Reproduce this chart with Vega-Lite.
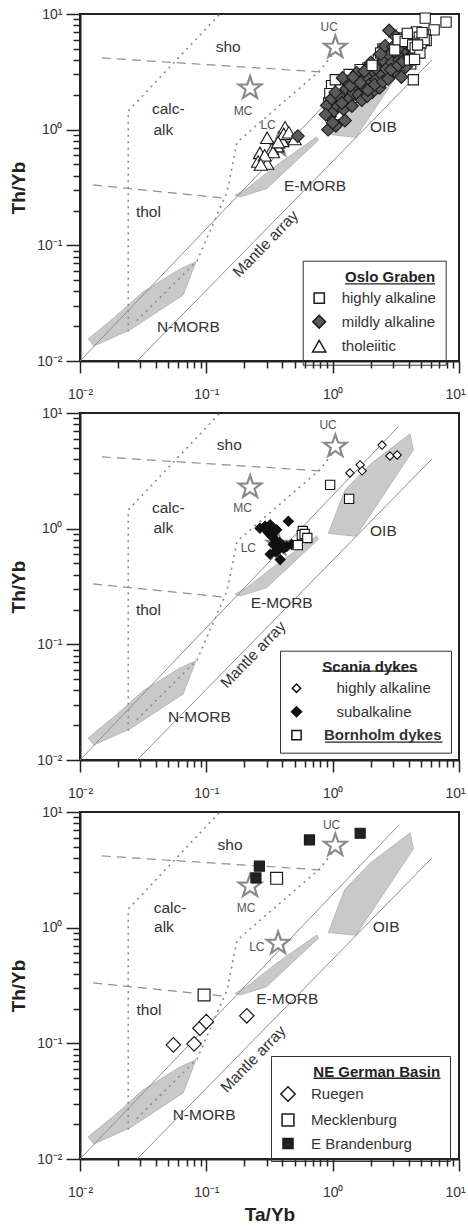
{
  "$schema": "https://vega.github.io/schema/vega-lite/v6.json",
  "background": "white",
  "padding": {"left": 8, "top": 6, "right": 0, "bottom": 2},
  "config": {
    "view": {"stroke": "#222", "strokeWidth": 2},
    "font": "Liberation Sans",
    "axis": {"grid": false}
  },
  "datasets": {
    "polys": [
      {"name": "N", "i": 0, "x": 0.0116, "y": 0.0155},
      {"name": "N", "i": 1, "x": 0.0129, "y": 0.0135},
      {"name": "N", "i": 2, "x": 0.0249, "y": 0.0186},
      {"name": "N", "i": 3, "x": 0.0655, "y": 0.0372},
      {"name": "N", "i": 4, "x": 0.0828, "y": 0.072},
      {"name": "N", "i": 5, "x": 0.062, "y": 0.0625},
      {"name": "N", "i": 6, "x": 0.0315, "y": 0.0395},
      {"name": "N", "i": 7, "x": 0.0189, "y": 0.024},
      {"name": "E", "i": 0, "x": 0.169, "y": 0.271},
      {"name": "E", "i": 1, "x": 0.209, "y": 0.309},
      {"name": "E", "i": 2, "x": 0.36, "y": 0.492},
      {"name": "E", "i": 3, "x": 0.748, "y": 0.865},
      {"name": "E", "i": 4, "x": 0.77, "y": 0.81},
      {"name": "E", "i": 5, "x": 0.30, "y": 0.309},
      {"name": "E", "i": 6, "x": 0.185, "y": 0.262},
      {"name": "O", "i": 0, "x": 0.925, "y": 0.91},
      {"name": "O", "i": 1, "x": 1.53, "y": 0.86},
      {"name": "O", "i": 2, "x": 4.35, "y": 4.8},
      {"name": "O", "i": 3, "x": 4.1, "y": 6.6},
      {"name": "O", "i": 4, "x": 1.98, "y": 3.6},
      {"name": "O", "i": 5, "x": 1.25, "y": 2.15}
    ],
    "mantlelines": [
      {"id": "m1", "i": 0, "x": 0.01, "y": 0.01},
      {"id": "m1", "i": 1, "x": 3.3, "y": 7.6},
      {"id": "m2", "i": 0, "x": 0.0283, "y": 0.01},
      {"id": "m2", "i": 1, "x": 6.1, "y": 4.0}
    ],
    "dashed": [
      {"id": "d1", "i": 0, "x": 0.0149, "y": 4.17},
      {"id": "d1", "i": 1, "x": 0.795, "y": 3.16},
      {"id": "d2", "i": 0, "x": 0.0127, "y": 0.333},
      {"id": "d2", "i": 1, "x": 0.133, "y": 0.257}
    ],
    "dotted": [
      {"id": "p1", "i": 0, "x": 0.0241, "y": 0.0179},
      {"id": "p1", "i": 1, "x": 0.0241, "y": 1.45},
      {"id": "p1", "i": 2, "x": 0.128, "y": 10},
      {"id": "p2", "i": 0, "x": 0.0281, "y": 0.0223},
      {"id": "p2", "i": 1, "x": 0.0844, "y": 0.0733},
      {"id": "p2", "i": 2, "x": 0.146, "y": 0.29},
      {"id": "p2", "i": 3, "x": 0.175, "y": 0.78},
      {"id": "p2", "i": 4, "x": 0.794, "y": 3.24},
      {"id": "p2", "i": 5, "x": 1.0, "y": 4.5}
    ],
    "labels": [
      {"p": 1, "t": "sho", "x": 0.149, "y": 5.15},
      {"p": 1, "t": "calc-", "x": 0.05, "y": 1.51},
      {"p": 1, "t": "alk", "x": 0.0457, "y": 1.0},
      {"p": 1, "t": "thol", "x": 0.0348, "y": 0.193},
      {"p": 1, "t": "N-MORB", "x": 0.072, "y": 0.0196},
      {"p": 1, "t": "E-MORB", "x": 0.726, "y": 0.328},
      {"p": 1, "t": "OIB", "x": 2.52, "y": 1.05},
      {"p": 2, "t": "sho", "x": 0.152, "y": 5.32},
      {"p": 2, "t": "calc-", "x": 0.05, "y": 1.51},
      {"p": 2, "t": "alk", "x": 0.0457, "y": 1.01},
      {"p": 2, "t": "thol", "x": 0.0348, "y": 0.2},
      {"p": 2, "t": "N-MORB", "x": 0.088, "y": 0.0234},
      {"p": 2, "t": "E-MORB", "x": 0.395, "y": 0.228},
      {"p": 2, "t": "OIB", "x": 2.52, "y": 0.95},
      {"p": 3, "t": "sho", "x": 0.154, "y": 5.2},
      {"p": 3, "t": "calc-", "x": 0.0516, "y": 1.47},
      {"p": 3, "t": "alk", "x": 0.0462, "y": 1.02},
      {"p": 3, "t": "thol", "x": 0.0352, "y": 0.195},
      {"p": 3, "t": "N-MORB", "x": 0.096, "y": 0.024},
      {"p": 3, "t": "E-MORB", "x": 0.437, "y": 0.24},
      {"p": 3, "t": "OIB", "x": 2.65, "y": 1.02}
    ],
    "mantle": [
      {"p": 1, "t": "Mantle array", "x": 0.295, "y": 0.103},
      {"p": 2, "t": "Mantle array", "x": 0.235, "y": 0.0815},
      {"p": 3, "t": "Mantle array", "x": 0.235, "y": 0.073}
    ],
    "starlabels": [
      {"p": 1, "t": "UC", "x": 0.94, "y": 7.7},
      {"p": 1, "t": "MC", "x": 0.195, "y": 1.46},
      {"p": 1, "t": "LC", "x": 0.308, "y": 1.1},
      {"p": 2, "t": "UC", "x": 0.92, "y": 7.8},
      {"p": 2, "t": "MC", "x": 0.194, "y": 1.5},
      {"p": 2, "t": "LC", "x": 0.215, "y": 0.68},
      {"p": 3, "t": "UC", "x": 0.98, "y": 7.7},
      {"p": 3, "t": "MC", "x": 0.206, "y": 1.47},
      {"p": 3, "t": "LC", "x": 0.251, "y": 0.685}
    ],
    "stars": [
      {"t": "UC", "x": 1.05, "y": 5.15},
      {"t": "MC", "x": 0.222, "y": 2.28},
      {"t": "LC", "x": 0.37, "y": 0.73}
    ],
    "underl": [
      {"p": 1, "x": 1.253, "x2": 6.47, "y": 0.0464},
      {"p": 2, "x": 0.83, "x2": 4.69, "y": 0.0586},
      {"p": 2, "x": 0.87, "x2": 7.41, "y": 0.0143},
      {"p": 3, "x": 0.705, "x2": 7.14, "y": 0.0499}
    ],
    "oslo": [
      {"g": "tholeiitic", "x": 0.303, "y": 0.85},
      {"g": "tholeiitic", "x": 0.42, "y": 1.05},
      {"g": "tholeiitic", "x": 0.443, "y": 0.88},
      {"g": "tholeiitic", "x": 0.5, "y": 0.83},
      {"g": "tholeiitic", "x": 0.4, "y": 0.8},
      {"g": "tholeiitic", "x": 0.363, "y": 0.72},
      {"g": "tholeiitic", "x": 0.331, "y": 0.68},
      {"g": "tholeiitic", "x": 0.266, "y": 0.63},
      {"g": "tholeiitic", "x": 0.281, "y": 0.56},
      {"g": "tholeiitic", "x": 0.303, "y": 0.51},
      {"g": "tholeiitic", "x": 0.257, "y": 0.53},
      {"g": "tholeiitic", "x": 0.337, "y": 0.64},
      {"g": "tholeiitic", "x": 0.41, "y": 0.92},
      {"g": "tholeiitic", "x": 0.29, "y": 0.6},
      {"g": "tholeiitic", "x": 0.37, "y": 0.78},
      {"g": "tholeiitic", "x": 0.45, "y": 0.95},
      {"g": "tholeiitic", "x": 0.27, "y": 0.5},
      {"g": "mildly alkaline", "x": 0.53, "y": 0.88},
      {"g": "highly alkaline", "x": 5.4, "y": 9.2},
      {"g": "highly alkaline", "x": 6.35, "y": 7.3},
      {"g": "highly alkaline", "x": 7.9, "y": 8.5},
      {"g": "highly alkaline", "x": 4.35, "y": 2.7},
      {"g": "highly alkaline", "x": 0.98, "y": 2.4},
      {"g": "highly alkaline", "x": 1.08, "y": 1.95},
      {"g": "highly alkaline", "x": 1.2, "y": 2.35},
      {"g": "highly alkaline", "x": 1.32, "y": 1.75},
      {"g": "highly alkaline", "x": 1.12, "y": 1.35},
      {"g": "highly alkaline", "x": 1.4, "y": 2.75},
      {"g": "highly alkaline", "x": 1.58, "y": 2.3},
      {"g": "highly alkaline", "x": 1.72, "y": 2.95},
      {"g": "highly alkaline", "x": 1.9, "y": 3.4},
      {"g": "highly alkaline", "x": 2.0, "y": 2.75},
      {"g": "highly alkaline", "x": 2.15, "y": 3.1},
      {"g": "highly alkaline", "x": 2.3, "y": 4.0},
      {"g": "highly alkaline", "x": 2.45, "y": 3.2},
      {"g": "highly alkaline", "x": 2.6, "y": 4.3},
      {"g": "highly alkaline", "x": 2.75, "y": 3.55},
      {"g": "highly alkaline", "x": 2.9, "y": 5.0},
      {"g": "highly alkaline", "x": 0.95, "y": 2.05},
      {"g": "highly alkaline", "x": 1.65, "y": 3.3},
      {"g": "highly alkaline", "x": 1.5, "y": 1.9},
      {"g": "highly alkaline", "x": 1.25, "y": 1.95},
      {"g": "highly alkaline", "x": 1.8, "y": 2.15},
      {"g": "highly alkaline", "x": 2.25, "y": 2.45},
      {"g": "highly alkaline", "x": 1.05, "y": 2.7},
      {"g": "highly alkaline", "x": 1.35, "y": 3.0},
      {"g": "highly alkaline", "x": 1.55, "y": 2.6},
      {"g": "highly alkaline", "x": 1.15, "y": 2.2},
      {"g": "highly alkaline", "x": 0.93, "y": 1.7},
      {"g": "mildly alkaline", "x": 0.92, "y": 1.0},
      {"g": "mildly alkaline", "x": 1.06, "y": 1.08},
      {"g": "mildly alkaline", "x": 0.95, "y": 1.3},
      {"g": "mildly alkaline", "x": 1.02, "y": 1.45},
      {"g": "mildly alkaline", "x": 0.9, "y": 1.62},
      {"g": "mildly alkaline", "x": 1.1, "y": 1.6},
      {"g": "mildly alkaline", "x": 0.98, "y": 1.85},
      {"g": "mildly alkaline", "x": 1.15, "y": 1.9},
      {"g": "mildly alkaline", "x": 1.05, "y": 2.1},
      {"g": "mildly alkaline", "x": 1.22, "y": 1.5},
      {"g": "mildly alkaline", "x": 1.28, "y": 2.25},
      {"g": "mildly alkaline", "x": 1.35, "y": 1.85},
      {"g": "mildly alkaline", "x": 1.3, "y": 2.6},
      {"g": "mildly alkaline", "x": 1.45, "y": 2.1},
      {"g": "mildly alkaline", "x": 1.5, "y": 2.45},
      {"g": "mildly alkaline", "x": 1.42, "y": 1.6},
      {"g": "mildly alkaline", "x": 1.6, "y": 2.0},
      {"g": "mildly alkaline", "x": 1.62, "y": 2.75},
      {"g": "mildly alkaline", "x": 1.75, "y": 2.35},
      {"g": "mildly alkaline", "x": 1.7, "y": 1.8},
      {"g": "mildly alkaline", "x": 1.85, "y": 2.9},
      {"g": "mildly alkaline", "x": 1.95, "y": 2.45},
      {"g": "mildly alkaline", "x": 2.05, "y": 2.1},
      {"g": "mildly alkaline", "x": 2.1, "y": 3.2},
      {"g": "mildly alkaline", "x": 2.2, "y": 2.7},
      {"g": "mildly alkaline", "x": 2.35, "y": 2.3},
      {"g": "mildly alkaline", "x": 2.3, "y": 3.6},
      {"g": "mildly alkaline", "x": 2.45, "y": 3.0},
      {"g": "mildly alkaline", "x": 1.2, "y": 2.8},
      {"g": "mildly alkaline", "x": 2.0, "y": 3.8},
      {"g": "mildly alkaline", "x": 1.55, "y": 3.1},
      {"g": "mildly alkaline", "x": 1.88, "y": 1.95},
      {"g": "mildly alkaline", "x": 1.25, "y": 1.2},
      {"g": "mildly alkaline", "x": 0.88, "y": 1.35},
      {"g": "mildly alkaline", "x": 1.0, "y": 1.15},
      {"g": "mildly alkaline", "x": 1.18, "y": 1.7},
      {"g": "mildly alkaline", "x": 1.38, "y": 2.4},
      {"g": "mildly alkaline", "x": 1.65, "y": 2.55},
      {"g": "mildly alkaline", "x": 1.9, "y": 2.2},
      {"g": "mildly alkaline", "x": 2.15, "y": 2.45},
      {"g": "mildly alkaline", "x": 2.5, "y": 2.6},
      {"g": "mildly alkaline", "x": 2.2, "y": 3.4},
      {"g": "mildly alkaline", "x": 1.78, "y": 3.2},
      {"g": "mildly alkaline", "x": 1.45, "y": 2.85},
      {"g": "highly alkaline", "x": 3.05, "y": 3.9},
      {"g": "highly alkaline", "x": 3.25, "y": 4.4},
      {"g": "highly alkaline", "x": 3.35, "y": 5.5},
      {"g": "highly alkaline", "x": 3.5, "y": 4.8},
      {"g": "highly alkaline", "x": 3.6, "y": 6.2},
      {"g": "highly alkaline", "x": 3.8, "y": 5.2},
      {"g": "highly alkaline", "x": 4.0, "y": 4.5},
      {"g": "highly alkaline", "x": 4.15, "y": 3.7},
      {"g": "highly alkaline", "x": 4.2, "y": 6.0},
      {"g": "highly alkaline", "x": 3.4, "y": 3.4},
      {"g": "highly alkaline", "x": 3.7, "y": 4.1},
      {"g": "highly alkaline", "x": 2.5, "y": 5.0},
      {"g": "highly alkaline", "x": 2.05, "y": 3.6},
      {"g": "highly alkaline", "x": 2.4, "y": 4.6},
      {"g": "highly alkaline", "x": 2.7, "y": 4.0},
      {"g": "mildly alkaline", "x": 2.55, "y": 3.9},
      {"g": "mildly alkaline", "x": 2.65, "y": 3.35},
      {"g": "mildly alkaline", "x": 2.75, "y": 2.75},
      {"g": "mildly alkaline", "x": 2.8, "y": 4.4},
      {"g": "mildly alkaline", "x": 2.95, "y": 3.8},
      {"g": "mildly alkaline", "x": 3.1, "y": 3.2},
      {"g": "mildly alkaline", "x": 3.2, "y": 4.6},
      {"g": "mildly alkaline", "x": 3.35, "y": 4.0},
      {"g": "mildly alkaline", "x": 3.5, "y": 2.85},
      {"g": "mildly alkaline", "x": 3.55, "y": 5.0},
      {"g": "mildly alkaline", "x": 3.7, "y": 4.3},
      {"g": "mildly alkaline", "x": 3.85, "y": 5.4},
      {"g": "mildly alkaline", "x": 3.95, "y": 4.7},
      {"g": "mildly alkaline", "x": 4.1, "y": 5.8},
      {"g": "mildly alkaline", "x": 4.25, "y": 5.0},
      {"g": "mildly alkaline", "x": 4.4, "y": 5.5},
      {"g": "mildly alkaline", "x": 4.55, "y": 4.6},
      {"g": "mildly alkaline", "x": 2.8, "y": 7.2},
      {"g": "mildly alkaline", "x": 3.15, "y": 6.4},
      {"g": "mildly alkaline", "x": 2.6, "y": 5.3},
      {"g": "mildly alkaline", "x": 3.4, "y": 5.9},
      {"g": "mildly alkaline", "x": 4.7, "y": 6.2},
      {"g": "mildly alkaline", "x": 3.8, "y": 3.5},
      {"g": "mildly alkaline", "x": 4.8, "y": 5.1},
      {"g": "mildly alkaline", "x": 3.0, "y": 5.2},
      {"g": "mildly alkaline", "x": 2.4, "y": 4.5},
      {"g": "mildly alkaline", "x": 2.9, "y": 3.3},
      {"g": "mildly alkaline", "x": 3.3, "y": 3.6},
      {"g": "mildly alkaline", "x": 3.6, "y": 3.9},
      {"g": "mildly alkaline", "x": 4.0, "y": 4.2},
      {"g": "mildly alkaline", "x": 4.3, "y": 4.4},
      {"g": "mildly alkaline", "x": 4.6, "y": 5.7},
      {"g": "highly alkaline", "x": 3.1, "y": 4.9},
      {"g": "highly alkaline", "x": 3.3, "y": 6.0},
      {"g": "highly alkaline", "x": 3.75, "y": 5.8},
      {"g": "highly alkaline", "x": 4.3, "y": 5.4},
      {"g": "highly alkaline", "x": 4.75, "y": 4.9},
      {"g": "highly alkaline", "x": 5.4, "y": 6.6},
      {"g": "highly alkaline", "x": 5.5, "y": 5.9},
      {"g": "highly alkaline", "x": 4.4, "y": 6.7},
      {"g": "highly alkaline", "x": 4.5, "y": 5.1},
      {"g": "highly alkaline", "x": 4.6, "y": 7.0},
      {"g": "highly alkaline", "x": 4.85, "y": 6.3},
      {"g": "highly alkaline", "x": 5.0, "y": 5.6},
      {"g": "highly alkaline", "x": 5.2, "y": 6.5},
      {"g": "highly alkaline", "x": 5.3, "y": 6.0},
      {"g": "highly alkaline", "x": 4.9, "y": 4.6},
      {"g": "highly alkaline", "x": 4.05, "y": 4.0},
      {"g": "highly alkaline", "x": 4.7, "y": 5.4},
      {"g": "highly alkaline", "x": 5.1, "y": 6.9},
      {"g": "highly alkaline", "x": 3.9, "y": 6.8},
      {"g": "highly alkaline", "x": 4.45, "y": 4.05}
    ],
    "scania": [
      {"g": "subalkaline", "x": 0.266, "y": 1.01},
      {"g": "subalkaline", "x": 0.292, "y": 1.05},
      {"g": "subalkaline", "x": 0.32, "y": 1.08},
      {"g": "subalkaline", "x": 0.339, "y": 1.01},
      {"g": "subalkaline", "x": 0.36, "y": 0.98},
      {"g": "subalkaline", "x": 0.446, "y": 1.16},
      {"g": "subalkaline", "x": 0.31, "y": 0.92},
      {"g": "subalkaline", "x": 0.33, "y": 0.86},
      {"g": "subalkaline", "x": 0.35, "y": 0.8},
      {"g": "subalkaline", "x": 0.339, "y": 0.73},
      {"g": "subalkaline", "x": 0.36, "y": 0.7},
      {"g": "subalkaline", "x": 0.395, "y": 0.73},
      {"g": "subalkaline", "x": 0.433, "y": 0.7},
      {"g": "subalkaline", "x": 0.474, "y": 0.73},
      {"g": "subalkaline", "x": 0.32, "y": 0.6},
      {"g": "subalkaline", "x": 0.384, "y": 0.54},
      {"g": "subalkaline", "x": 0.372, "y": 0.66},
      {"g": "subalkaline", "x": 0.3, "y": 0.97},
      {"g": "subalkaline", "x": 0.345, "y": 0.95},
      {"g": "subalkaline", "x": 0.38, "y": 0.76},
      {"g": "subalkaline", "x": 0.41, "y": 0.68},
      {"g": "subalkaline", "x": 0.355, "y": 0.63},
      {"g": "subalkaline", "x": 0.325, "y": 0.9},
      {"g": "highly alkaline", "x": 2.46, "y": 5.28},
      {"g": "highly alkaline", "x": 1.37, "y": 3.03},
      {"g": "highly alkaline", "x": 1.65, "y": 3.56},
      {"g": "highly alkaline", "x": 1.71, "y": 3.16},
      {"g": "highly alkaline", "x": 2.84, "y": 4.25},
      {"g": "highly alkaline", "x": 3.24, "y": 4.34},
      {"g": "Bornholm dykes", "x": 0.955, "y": 2.39},
      {"g": "Bornholm dykes", "x": 1.35, "y": 1.81},
      {"g": "Bornholm dykes", "x": 0.58, "y": 0.955},
      {"g": "Bornholm dykes", "x": 0.57, "y": 0.88},
      {"g": "Bornholm dykes", "x": 0.6, "y": 0.9},
      {"g": "Bornholm dykes", "x": 0.63, "y": 0.83},
      {"g": "Bornholm dykes", "x": 0.53, "y": 0.72}
    ],
    "german": [
      {"g": "Ruegen", "x": 0.0548, "y": 0.097},
      {"g": "Ruegen", "x": 0.08, "y": 0.099},
      {"g": "Ruegen", "x": 0.089, "y": 0.135},
      {"g": "Ruegen", "x": 0.1, "y": 0.154},
      {"g": "Ruegen", "x": 0.209, "y": 0.173},
      {"g": "Mecklenburg", "x": 0.096, "y": 0.262},
      {"g": "Mecklenburg", "x": 0.36, "y": 2.67},
      {"g": "E Brandenburg", "x": 0.655, "y": 5.73},
      {"g": "E Brandenburg", "x": 1.65, "y": 6.55},
      {"g": "E Brandenburg", "x": 0.263, "y": 3.41},
      {"g": "E Brandenburg", "x": 0.247, "y": 2.69}
    ]
  },
  "bounds": "flush",
  "spacing": 52,
  "resolve": {
    "scale": {"x": "independent", "y": "independent", "shape": "independent", "fill": "independent", "size": "independent"},
    "legend": {"shape": "independent", "fill": "independent", "size": "independent"}
  },
  "vconcat": [
    {
      "width": 379, "height": 347,
      "encoding": {
        "x": {"field": "x", "type": "quantitative", "title": null,
          "scale": {"type": "log", "domain": [0.01, 10], "nice": false},
          "axis": {"values": [0.01,0.02,0.03,0.04,0.05,0.06,0.07,0.08,0.09,0.1,0.2,0.3,0.4,0.5,0.6,0.7,0.8,0.9,1,2,3,4,5,6,7,8,9,10],
            "labelExpr": "datum.value == 0.01 ? '10⁻²' : datum.value == 0.1 ? '10⁻¹' : datum.value == 1 ? '10⁰' : datum.value == 10 ? '10¹' : ''",
            "tickSize": {"condition": {"test": "datum.value == 0.01 || datum.value == 0.1 || datum.value == 1 || datum.value == 10", "value": 12}, "value": 7},
            "labelOffset": {"condition": {"test": "datum.value == 10", "value": -4}, "value": 0},
            "tickWidth": 1.5, "tickColor": "#222", "domainColor": "#222", "domainWidth": 2,
            "labelFontSize": 14, "labelColor": "#333", "labelPadding": 14, "labelOverlap": false, "labelFlush": false, "labelBound": false}},
        "y": {"field": "y", "type": "quantitative", "title": "Th/Yb",
          "scale": {"type": "log", "domain": [0.01, 10], "nice": false},
          "axis": {"values": [0.01,0.02,0.03,0.04,0.05,0.06,0.07,0.08,0.09,0.1,0.2,0.3,0.4,0.5,0.6,0.7,0.8,0.9,1,2,3,4,5,6,7,8,9,10],
            "labelExpr": "datum.value == 0.01 ? '10⁻²' : datum.value == 0.1 ? '10⁻¹' : datum.value == 1 ? '10⁰' : datum.value == 10 ? '10¹' : ''",
            "tickSize": {"condition": {"test": "datum.value == 0.01 || datum.value == 0.1 || datum.value == 1 || datum.value == 10", "value": 14}, "value": 7},
            "tickWidth": 1.5, "tickColor": "#222", "domainColor": "#222", "domainWidth": 2,
            "labelFontSize": 14, "labelColor": "#333", "labelPadding": 4, "labelOverlap": false, "labelFlush": false, "labelBound": false,
            "titleFontSize": 19, "titleFontWeight": "bold", "titleColor": "#222", "titlePadding": 8}}
      },
      "layer": [
        {"data": {"name": "polys"}, "mark": {"type": "line", "interpolate": "linear-closed", "fill": "#c9c9c9", "stroke": "#b8b8b8", "strokeWidth": 1},
          "encoding": {"detail": {"field": "name", "type": "nominal"}, "order": {"field": "i", "type": "quantitative"}}},
        {"data": {"name": "mantlelines"}, "mark": {"type": "line", "stroke": "#8f8f8f", "strokeWidth": 1},
          "encoding": {"detail": {"field": "id", "type": "nominal"}, "order": {"field": "i", "type": "quantitative"}}},
        {"data": {"name": "dashed"}, "mark": {"type": "line", "stroke": "#8f8f8f", "strokeWidth": 1.2, "strokeDash": [9, 6]},
          "encoding": {"detail": {"field": "id", "type": "nominal"}, "order": {"field": "i", "type": "quantitative"}}},
        {"data": {"name": "dotted"}, "mark": {"type": "line", "stroke": "#8a8a8a", "strokeWidth": 1.6, "strokeDash": [2, 4.5]},
          "encoding": {"detail": {"field": "id", "type": "nominal"}, "order": {"field": "i", "type": "quantitative"}}},
        {"data": {"name": "labels"}, "transform": [{"filter": "datum.p == 1"}],
          "mark": {"type": "text", "fontSize": 15.5, "fill": "#333", "baseline": "middle"}, "encoding": {"text": {"field": "t"}}},
        {"data": {"name": "mantle"}, "transform": [{"filter": "datum.p == 1"}],
          "mark": {"type": "text", "fontSize": 15.5, "fill": "#333", "angle": 314, "baseline": "middle"}, "encoding": {"text": {"field": "t"}}},
        {"data": {"name": "starlabels"}, "transform": [{"filter": "datum.p == 1"}],
          "mark": {"type": "text", "fontSize": 12, "fill": "#555", "baseline": "middle"}, "encoding": {"text": {"field": "t"}}},
        {"data": {"name": "stars"},
          "mark": {"type": "point", "shape": "M0,-1L0.235,-0.324L0.951,-0.309L0.38,0.124L0.588,0.809L0,0.4L-0.588,0.809L-0.38,0.124L-0.951,-0.309L-0.235,-0.324Z", "size": 560, "filled": true, "fill": "white", "stroke": "#8a8a8a", "strokeWidth": 2.2, "opacity": 1}},
        {"data": {"name": "underl"}, "transform": [{"filter": "datum.p == 1"}],
          "mark": {"type": "rule", "stroke": "#222", "strokeWidth": 1.3}, "encoding": {"x2": {"field": "x2"}}},
        {"data": {"name": "oslo"},
          "mark": {"type": "point", "filled": true, "stroke": "#1a1a1a", "strokeWidth": 1.1, "opacity": 1},
          "encoding": {
            "shape": {"field": "g", "type": "nominal", "scale": {"domain": ["highly alkaline", "mildly alkaline", "tholeiitic"], "range": ["square", "diamond", "triangle-up"]},
              "legend": {"title": "\u200b\u00a0\u00a0\u00a0\u00a0\u00a0\u00a0\u00a0\u00a0Oslo Graben", "orient": "none", "legendX": 222.7, "legendY": 246.7, "padding": 9, "strokeColor": "#333",
                "titleFontSize": 15, "titleFontWeight": "bold", "titleColor": "#222", "titlePadding": 6,
                "labelFontSize": 15, "labelColor": "#333", "labelOffset": 15, "rowPadding": 5.5}},
            "fill": {"field": "g", "type": "nominal", "scale": {"domain": ["highly alkaline", "mildly alkaline", "tholeiitic"], "range": ["#ffffff", "#5a5a5a", "#ffffff"]},
              "legend": {"title": "\u200b\u00a0\u00a0\u00a0\u00a0\u00a0\u00a0\u00a0\u00a0Oslo Graben", "orient": "none", "legendX": 222.7, "legendY": 246.7, "padding": 9, "strokeColor": "#333",
                "titleFontSize": 15, "titleFontWeight": "bold", "titleColor": "#222", "titlePadding": 6,
                "labelFontSize": 15, "labelColor": "#333", "labelOffset": 15, "rowPadding": 5.5}},
            "size": {"field": "g", "type": "nominal", "scale": {"type": "ordinal", "domain": ["highly alkaline", "mildly alkaline", "tholeiitic"], "range": [105, 165, 175]},
              "legend": {"title": "\u200b\u00a0\u00a0\u00a0\u00a0\u00a0\u00a0\u00a0\u00a0Oslo Graben", "orient": "none", "legendX": 222.7, "legendY": 246.7, "padding": 9, "strokeColor": "#333",
                "titleFontSize": 15, "titleFontWeight": "bold", "titleColor": "#222", "titlePadding": 6,
                "labelFontSize": 15, "labelColor": "#333", "labelOffset": 15, "rowPadding": 5.5}}
          }}
      ]
    },
    {
      "width": 379, "height": 347,
      "encoding": {
        "x": {"field": "x", "type": "quantitative", "title": null,
          "scale": {"type": "log", "domain": [0.01, 10], "nice": false},
          "axis": {"values": [0.01,0.02,0.03,0.04,0.05,0.06,0.07,0.08,0.09,0.1,0.2,0.3,0.4,0.5,0.6,0.7,0.8,0.9,1,2,3,4,5,6,7,8,9,10],
            "labelExpr": "datum.value == 0.01 ? '10⁻²' : datum.value == 0.1 ? '10⁻¹' : datum.value == 1 ? '10⁰' : datum.value == 10 ? '10¹' : ''",
            "tickSize": {"condition": {"test": "datum.value == 0.01 || datum.value == 0.1 || datum.value == 1 || datum.value == 10", "value": 12}, "value": 7},
            "labelOffset": {"condition": {"test": "datum.value == 10", "value": -4}, "value": 0},
            "tickWidth": 1.5, "tickColor": "#222", "domainColor": "#222", "domainWidth": 2,
            "labelFontSize": 14, "labelColor": "#333", "labelPadding": 14, "labelOverlap": false, "labelFlush": false, "labelBound": false}},
        "y": {"field": "y", "type": "quantitative", "title": "Th/Yb",
          "scale": {"type": "log", "domain": [0.01, 10], "nice": false},
          "axis": {"values": [0.01,0.02,0.03,0.04,0.05,0.06,0.07,0.08,0.09,0.1,0.2,0.3,0.4,0.5,0.6,0.7,0.8,0.9,1,2,3,4,5,6,7,8,9,10],
            "labelExpr": "datum.value == 0.01 ? '10⁻²' : datum.value == 0.1 ? '10⁻¹' : datum.value == 1 ? '10⁰' : datum.value == 10 ? '10¹' : ''",
            "tickSize": {"condition": {"test": "datum.value == 0.01 || datum.value == 0.1 || datum.value == 1 || datum.value == 10", "value": 14}, "value": 7},
            "tickWidth": 1.5, "tickColor": "#222", "domainColor": "#222", "domainWidth": 2,
            "labelFontSize": 14, "labelColor": "#333", "labelPadding": 4, "labelOverlap": false, "labelFlush": false, "labelBound": false,
            "titleFontSize": 19, "titleFontWeight": "bold", "titleColor": "#222", "titlePadding": 8}}
      },
      "layer": [
        {"data": {"name": "polys"}, "mark": {"type": "line", "interpolate": "linear-closed", "fill": "#c9c9c9", "stroke": "#b8b8b8", "strokeWidth": 1},
          "encoding": {"detail": {"field": "name", "type": "nominal"}, "order": {"field": "i", "type": "quantitative"}}},
        {"data": {"name": "mantlelines"}, "mark": {"type": "line", "stroke": "#8f8f8f", "strokeWidth": 1},
          "encoding": {"detail": {"field": "id", "type": "nominal"}, "order": {"field": "i", "type": "quantitative"}}},
        {"data": {"name": "dashed"}, "mark": {"type": "line", "stroke": "#8f8f8f", "strokeWidth": 1.2, "strokeDash": [9, 6]},
          "encoding": {"detail": {"field": "id", "type": "nominal"}, "order": {"field": "i", "type": "quantitative"}}},
        {"data": {"name": "dotted"}, "mark": {"type": "line", "stroke": "#8a8a8a", "strokeWidth": 1.6, "strokeDash": [2, 4.5]},
          "encoding": {"detail": {"field": "id", "type": "nominal"}, "order": {"field": "i", "type": "quantitative"}}},
        {"data": {"name": "labels"}, "transform": [{"filter": "datum.p == 2"}],
          "mark": {"type": "text", "fontSize": 15.5, "fill": "#333", "baseline": "middle"}, "encoding": {"text": {"field": "t"}}},
        {"data": {"name": "mantle"}, "transform": [{"filter": "datum.p == 2"}],
          "mark": {"type": "text", "fontSize": 15.5, "fill": "#333", "angle": 314, "baseline": "middle"}, "encoding": {"text": {"field": "t"}}},
        {"data": {"name": "starlabels"}, "transform": [{"filter": "datum.p == 2"}],
          "mark": {"type": "text", "fontSize": 12, "fill": "#555", "baseline": "middle"}, "encoding": {"text": {"field": "t"}}},
        {"data": {"name": "stars"},
          "mark": {"type": "point", "shape": "M0,-1L0.235,-0.324L0.951,-0.309L0.38,0.124L0.588,0.809L0,0.4L-0.588,0.809L-0.38,0.124L-0.951,-0.309L-0.235,-0.324Z", "size": 560, "filled": true, "fill": "white", "stroke": "#8a8a8a", "strokeWidth": 2.2, "opacity": 1}},
        {"data": {"name": "underl"}, "transform": [{"filter": "datum.p == 2"}],
          "mark": {"type": "rule", "stroke": "#222", "strokeWidth": 1.3}, "encoding": {"x2": {"field": "x2"}}},
        {"data": {"name": "scania"},
          "mark": {"type": "point", "filled": true, "stroke": "#111", "strokeWidth": 1.1, "opacity": 1},
          "encoding": {
            "shape": {"field": "g", "type": "nominal", "scale": {"domain": ["highly alkaline", "subalkaline", "Bornholm dykes"], "range": ["diamond", "diamond", "square"]},
              "legend": {"title": "\u200b\u00a0\u00a0\u00a0\u00a0\u00a0\u00a0\u00a0\u00a0Scania dykes", "orient": "none", "legendX": 200, "legendY": 237.7, "padding": 9, "strokeColor": "#333",
                "titleFontSize": 15, "titleFontWeight": "bold", "titleColor": "#222", "titlePadding": 6,
                "labelFontSize": 15, "labelColor": "#333", "labelOffset": 20, "rowPadding": 6.5,
                "labelFontWeight": {"expr": "datum.value == 'Bornholm dykes' ? 'bold' : 'normal'"},
                "labelExpr": "datum.label == 'Bornholm dykes' ? datum.label : '\u200b\u00a0\u00a0\u00a0' + datum.label"}},
            "fill": {"field": "g", "type": "nominal", "scale": {"domain": ["highly alkaline", "subalkaline", "Bornholm dykes"], "range": ["#ffffff", "#111111", "#ffffff"]},
              "legend": {"title": "\u200b\u00a0\u00a0\u00a0\u00a0\u00a0\u00a0\u00a0\u00a0Scania dykes", "orient": "none", "legendX": 200, "legendY": 237.7, "padding": 9, "strokeColor": "#333",
                "titleFontSize": 15, "titleFontWeight": "bold", "titleColor": "#222", "titlePadding": 6,
                "labelFontSize": 15, "labelColor": "#333", "labelOffset": 20, "rowPadding": 6.5,
                "labelFontWeight": {"expr": "datum.value == 'Bornholm dykes' ? 'bold' : 'normal'"},
                "labelExpr": "datum.label == 'Bornholm dykes' ? datum.label : '\u200b\u00a0\u00a0\u00a0' + datum.label"}},
            "size": {"field": "g", "type": "nominal", "scale": {"type": "ordinal", "domain": ["highly alkaline", "subalkaline", "Bornholm dykes"], "range": [70, 100, 85]},
              "legend": {"title": "\u200b\u00a0\u00a0\u00a0\u00a0\u00a0\u00a0\u00a0\u00a0Scania dykes", "orient": "none", "legendX": 200, "legendY": 237.7, "padding": 9, "strokeColor": "#333",
                "titleFontSize": 15, "titleFontWeight": "bold", "titleColor": "#222", "titlePadding": 6,
                "labelFontSize": 15, "labelColor": "#333", "labelOffset": 20, "rowPadding": 6.5,
                "labelFontWeight": {"expr": "datum.value == 'Bornholm dykes' ? 'bold' : 'normal'"},
                "labelExpr": "datum.label == 'Bornholm dykes' ? datum.label : '\u200b\u00a0\u00a0\u00a0' + datum.label"}}
          }}
      ]
    },
    {
      "width": 379, "height": 347,
      "encoding": {
        "x": {"field": "x", "type": "quantitative", "title": "Ta/Yb",
          "scale": {"type": "log", "domain": [0.01, 10], "nice": false},
          "axis": {"values": [0.01,0.02,0.03,0.04,0.05,0.06,0.07,0.08,0.09,0.1,0.2,0.3,0.4,0.5,0.6,0.7,0.8,0.9,1,2,3,4,5,6,7,8,9,10],
            "labelExpr": "datum.value == 0.01 ? '10⁻²' : datum.value == 0.1 ? '10⁻¹' : datum.value == 1 ? '10⁰' : datum.value == 10 ? '10¹' : ''",
            "tickSize": {"condition": {"test": "datum.value == 0.01 || datum.value == 0.1 || datum.value == 1 || datum.value == 10", "value": 12}, "value": 7},
            "labelOffset": {"condition": {"test": "datum.value == 10", "value": -4}, "value": 0},
            "tickWidth": 1.5, "tickColor": "#222", "domainColor": "#222", "domainWidth": 2,
            "labelFontSize": 14, "labelColor": "#333", "labelPadding": 14, "labelOverlap": false, "labelFlush": false, "labelBound": false,
            "titleFontSize": 19, "titleFontWeight": "bold", "titleColor": "#222", "titlePadding": 6}},
        "y": {"field": "y", "type": "quantitative", "title": "Th/Yb",
          "scale": {"type": "log", "domain": [0.01, 10], "nice": false},
          "axis": {"values": [0.01,0.02,0.03,0.04,0.05,0.06,0.07,0.08,0.09,0.1,0.2,0.3,0.4,0.5,0.6,0.7,0.8,0.9,1,2,3,4,5,6,7,8,9,10],
            "labelExpr": "datum.value == 0.01 ? '10⁻²' : datum.value == 0.1 ? '10⁻¹' : datum.value == 1 ? '10⁰' : datum.value == 10 ? '10¹' : ''",
            "tickSize": {"condition": {"test": "datum.value == 0.01 || datum.value == 0.1 || datum.value == 1 || datum.value == 10", "value": 14}, "value": 7},
            "tickWidth": 1.5, "tickColor": "#222", "domainColor": "#222", "domainWidth": 2,
            "labelFontSize": 14, "labelColor": "#333", "labelPadding": 4, "labelOverlap": false, "labelFlush": false, "labelBound": false,
            "titleFontSize": 19, "titleFontWeight": "bold", "titleColor": "#222", "titlePadding": 8}}
      },
      "layer": [
        {"data": {"name": "polys"}, "mark": {"type": "line", "interpolate": "linear-closed", "fill": "#c9c9c9", "stroke": "#b8b8b8", "strokeWidth": 1},
          "encoding": {"detail": {"field": "name", "type": "nominal"}, "order": {"field": "i", "type": "quantitative"}}},
        {"data": {"name": "mantlelines"}, "mark": {"type": "line", "stroke": "#8f8f8f", "strokeWidth": 1},
          "encoding": {"detail": {"field": "id", "type": "nominal"}, "order": {"field": "i", "type": "quantitative"}}},
        {"data": {"name": "dashed"}, "mark": {"type": "line", "stroke": "#8f8f8f", "strokeWidth": 1.2, "strokeDash": [9, 6]},
          "encoding": {"detail": {"field": "id", "type": "nominal"}, "order": {"field": "i", "type": "quantitative"}}},
        {"data": {"name": "dotted"}, "mark": {"type": "line", "stroke": "#8a8a8a", "strokeWidth": 1.6, "strokeDash": [2, 4.5]},
          "encoding": {"detail": {"field": "id", "type": "nominal"}, "order": {"field": "i", "type": "quantitative"}}},
        {"data": {"name": "labels"}, "transform": [{"filter": "datum.p == 3"}],
          "mark": {"type": "text", "fontSize": 15.5, "fill": "#333", "baseline": "middle"}, "encoding": {"text": {"field": "t"}}},
        {"data": {"name": "mantle"}, "transform": [{"filter": "datum.p == 3"}],
          "mark": {"type": "text", "fontSize": 15.5, "fill": "#333", "angle": 314, "baseline": "middle"}, "encoding": {"text": {"field": "t"}}},
        {"data": {"name": "starlabels"}, "transform": [{"filter": "datum.p == 3"}],
          "mark": {"type": "text", "fontSize": 12, "fill": "#555", "baseline": "middle"}, "encoding": {"text": {"field": "t"}}},
        {"data": {"name": "stars"},
          "mark": {"type": "point", "shape": "M0,-1L0.235,-0.324L0.951,-0.309L0.38,0.124L0.588,0.809L0,0.4L-0.588,0.809L-0.38,0.124L-0.951,-0.309L-0.235,-0.324Z", "size": 560, "filled": true, "fill": "white", "stroke": "#8a8a8a", "strokeWidth": 2.2, "opacity": 1}},
        {"data": {"name": "underl"}, "transform": [{"filter": "datum.p == 3"}],
          "mark": {"type": "rule", "stroke": "#222", "strokeWidth": 1.3}, "encoding": {"x2": {"field": "x2"}}},
        {"data": {"name": "german"},
          "mark": {"type": "point", "filled": true, "stroke": "#1a1a1a", "strokeWidth": 1.2, "opacity": 1},
          "encoding": {
            "shape": {"field": "g", "type": "nominal", "scale": {"domain": ["Ruegen", "Mecklenburg", "E Brandenburg"], "range": ["diamond", "square", "square"]},
              "legend": {"title": "\u200b\u00a0\u00a0\u00a0\u00a0\u00a0\u00a0\u00a0\u00a0NE German Basin", "orient": "none", "legendX": 191, "legendY": 244, "padding": 9, "strokeColor": "#333",
                "titleFontSize": 15, "titleFontWeight": "bold", "titleColor": "#222", "titlePadding": 6,
                "labelFontSize": 15, "labelColor": "#333", "labelOffset": 15, "rowPadding": 5.5}},
            "fill": {"field": "g", "type": "nominal", "scale": {"domain": ["Ruegen", "Mecklenburg", "E Brandenburg"], "range": ["#ffffff", "#ffffff", "#222222"]},
              "legend": {"title": "\u200b\u00a0\u00a0\u00a0\u00a0\u00a0\u00a0\u00a0\u00a0NE German Basin", "orient": "none", "legendX": 191, "legendY": 244, "padding": 9, "strokeColor": "#333",
                "titleFontSize": 15, "titleFontWeight": "bold", "titleColor": "#222", "titlePadding": 6,
                "labelFontSize": 15, "labelColor": "#333", "labelOffset": 15, "rowPadding": 5.5}},
            "size": {"field": "g", "type": "nominal", "scale": {"type": "ordinal", "domain": ["Ruegen", "Mecklenburg", "E Brandenburg"], "range": [210, 140, 100]},
              "legend": {"title": "\u200b\u00a0\u00a0\u00a0\u00a0\u00a0\u00a0\u00a0\u00a0NE German Basin", "orient": "none", "legendX": 191, "legendY": 244, "padding": 9, "strokeColor": "#333",
                "titleFontSize": 15, "titleFontWeight": "bold", "titleColor": "#222", "titlePadding": 6,
                "labelFontSize": 15, "labelColor": "#333", "labelOffset": 15, "rowPadding": 5.5}}
          }}
      ]
    }
  ]
}
